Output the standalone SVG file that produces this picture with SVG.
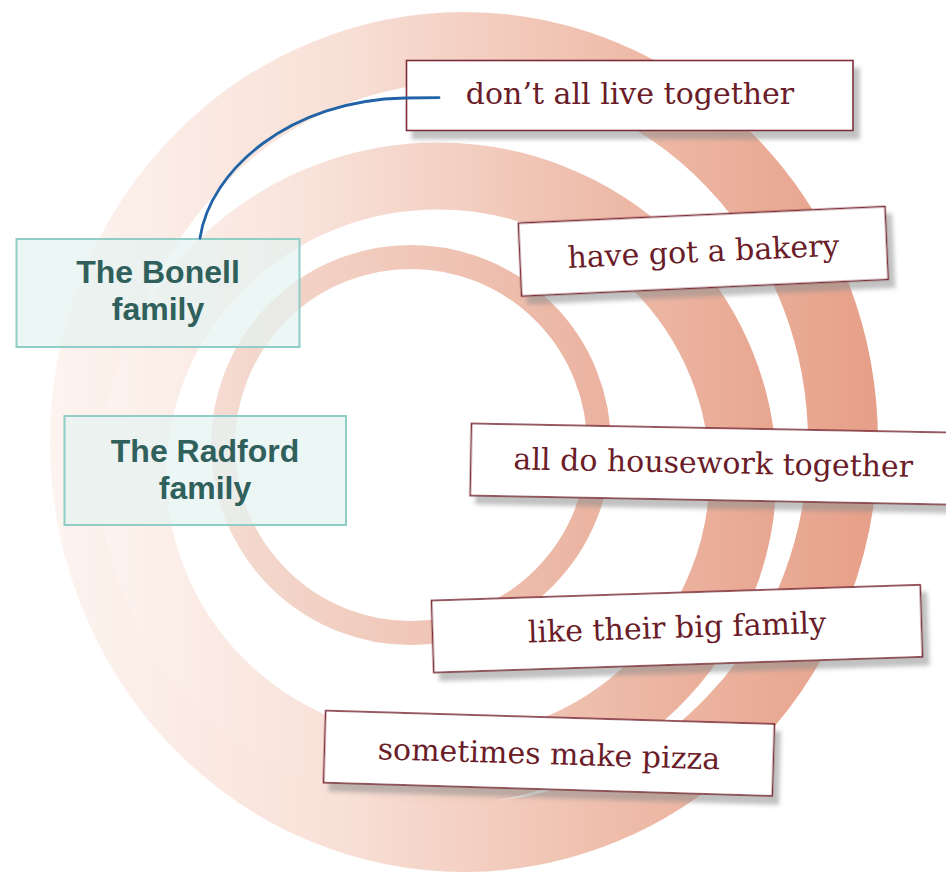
<svg xmlns="http://www.w3.org/2000/svg" width="946" height="874" viewBox="0 0 946 874">
  <defs>
    <linearGradient id="gOuter" gradientUnits="userSpaceOnUse" x1="50" y1="0" x2="880" y2="0">
      <stop offset="0" stop-color="#fdf4f0"/>
      <stop offset="0.35" stop-color="#f8e0d7"/>
      <stop offset="0.7" stop-color="#eebba8"/>
      <stop offset="1" stop-color="#e69f88"/>
    </linearGradient>
    <linearGradient id="gMiddle" gradientUnits="userSpaceOnUse" x1="100" y1="0" x2="775" y2="0">
      <stop offset="0" stop-color="#fdf3ef"/>
      <stop offset="0.3" stop-color="#f9e4dc"/>
      <stop offset="0.65" stop-color="#f0c4b4"/>
      <stop offset="1" stop-color="#e8a690"/>
    </linearGradient>
    <linearGradient id="gInner" gradientUnits="userSpaceOnUse" x1="210" y1="0" x2="612" y2="0">
      <stop offset="0" stop-color="#f5dcd2"/>
      <stop offset="1" stop-color="#ebb29f"/>
    </linearGradient>
    <filter id="shadow" x="-5%" y="-20%" width="115%" height="150%">
      <feDropShadow dx="6" dy="8" stdDeviation="2" flood-color="#8f8f8f" flood-opacity="0.55"/>
    </filter>
  </defs>
  <style>
    .ring { fill: none; }
    .team rect { fill: #e4f2f1; fill-opacity: 0.72; stroke: #8fcdc6; stroke-width: 2; }
    .team text { font-family: "Liberation Sans", Arial, sans-serif; font-weight: 700; font-size: 32px; fill: #2f605c; text-anchor: middle; }
    .card rect { fill: #ffffff; stroke: #7e2c37; stroke-width: 1.6; }
    .card text { font-family: "DejaVu Serif", "Liberation Serif", serif; font-size: 30px; fill: #6a1c28; text-anchor: middle; }
    .link { fill: none; stroke: #2163a6; stroke-width: 2.8; stroke-linecap: round; }
  </style>

  <rect x="0" y="0" width="946" height="874" fill="#ffffff"/>

  <g id="rings">
    <ellipse class="ring" cx="464" cy="442" rx="379" ry="395" stroke="url(#gOuter)" stroke-width="70"/>
    <ellipse class="ring" cx="438" cy="474" rx="305" ry="298" stroke="url(#gMiddle)" stroke-width="67"/>
    <circle class="ring" cx="411" cy="445" r="188" stroke="url(#gInner)" stroke-width="24"/>
  </g>

  <g id="bonell" class="team">
    <rect x="16.5" y="239" width="283" height="108"/>
    <text x="158" y="283">The Bonell</text>
    <text x="158" y="320">family</text>
  </g>

  <g id="radford" class="team">
    <rect x="64.5" y="416" width="281.5" height="109"/>
    <text x="205" y="462">The Radford</text>
    <text x="205" y="499">family</text>
  </g>

  <g id="dont-live-together" class="card">
    <rect x="406.5" y="60.5" width="446.5" height="70" filter="url(#shadow)"/>
    <text x="630" y="104">don’t all live together</text>
  </g>

  <g id="bakery" class="card" transform="translate(703.3 251.3) rotate(-2.6)">
    <rect x="-183.5" y="-36.5" width="367" height="73" filter="url(#shadow)"/>
    <text x="0" y="10.5">have got a bakery</text>
  </g>

  <g id="housework" class="card" transform="translate(713.3 464.1) rotate(1.08)">
    <rect x="-242.5" y="-36" width="485" height="72" filter="url(#shadow)"/>
    <text x="0" y="9">all do housework together</text>
  </g>

  <g id="big-family" class="card" transform="translate(677 628.7) rotate(-1.84)">
    <rect x="-244.5" y="-36" width="489" height="72" filter="url(#shadow)"/>
    <text x="0" y="9">like their big family</text>
  </g>

  <g id="pizza" class="card" transform="translate(549 753.3) rotate(1.7)">
    <rect x="-224.5" y="-36" width="449" height="72" filter="url(#shadow)"/>
    <text x="0" y="11">sometimes make pizza</text>
  </g>

  <g id="connectors">
    <path class="link" d="M 200 238 C 210 170, 290 100, 405 98 L 439 97.7"/>
  </g>
</svg>
